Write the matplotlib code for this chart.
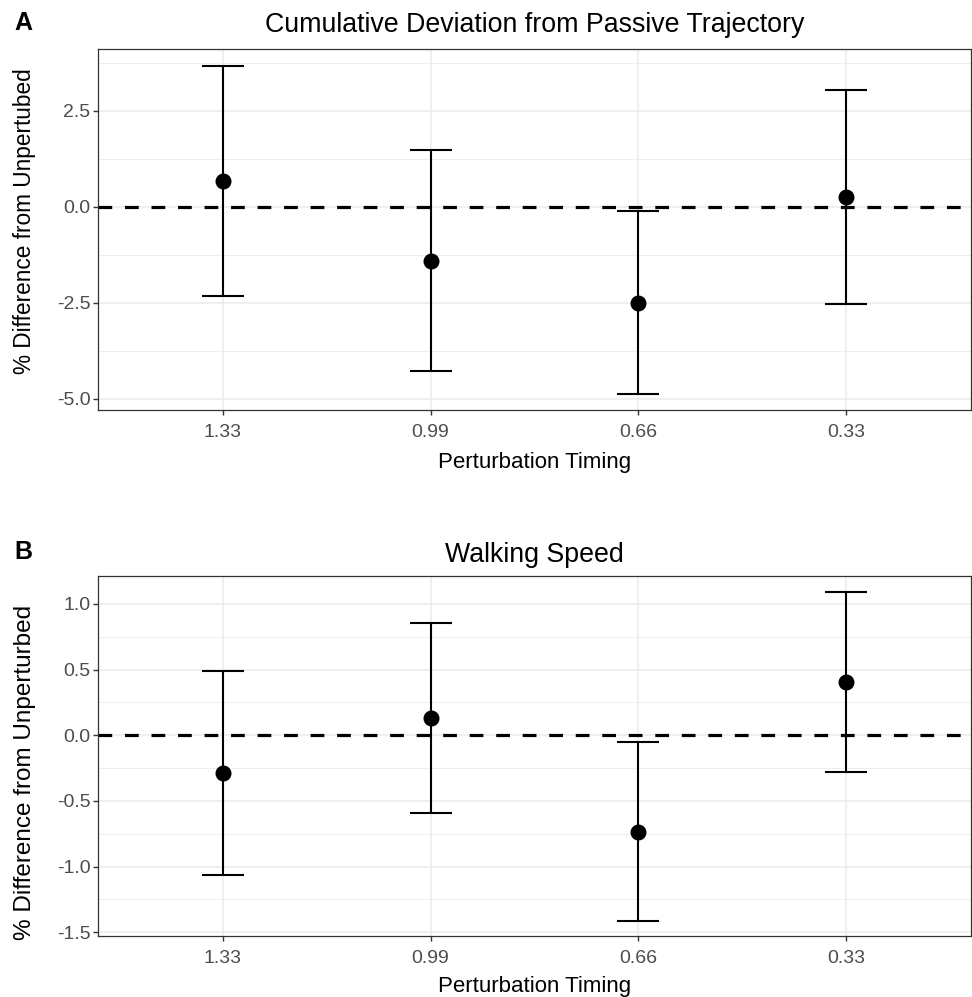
import matplotlib
matplotlib.use("Agg")
import matplotlib.pyplot as plt
import numpy as np

plt.rcParams['font.family'] = ['Liberation Sans', 'DejaVu Sans']

# ---- data ----
categories = ["1.33", "0.99", "0.66", "0.33"]

dev_mean = [0.68, -1.41, -2.50, 0.26]
dev_lower = [-2.31, -4.27, -4.88, -2.53]
dev_upper = [3.68, 1.47, -0.12, 3.04]

speed_mean = [-0.289, 0.134, -0.736, 0.404]
speed_lower = [-1.064, -0.592, -1.412, -0.282]
speed_upper = [0.490, 0.855, -0.053, 1.091]

dev_yticks = [-5.0, -2.5, 0.0, 2.5]
dev_yminor = [-3.75, -1.25, 1.25, 3.75]
speed_yticks = [-1.5, -1.0, -0.5, 0.0, 0.5, 1.0]
speed_yminor = [-1.25, -0.75, -0.25, 0.25, 0.75]

titles = ["Cumulative Deviation from Passive Trajectory", "Walking Speed"]
ylabels = ["% Difference from Unpertubed", "% Difference from Unperturbed"]
xlabel = "Perturbation Timing"
panel_letters = ["A", "B"]

W, H = 972, 997
fig = plt.figure(figsize=(W / 100, H / 100), dpi=100)

def fx(px):
    return px / W

def fy(py):
    return 1 - py / H

panels = [
    dict(left=98, right=971, top=49, bottom=410, ylim=(-5.29, 4.11),
         mean=dev_mean, lo=dev_lower, hi=dev_upper, yt=dev_yticks, ym=dev_yminor,
         title_base=32, letter_base=30, xlab_base=468, ylab_c=221, ylab_fs=16.3,
         title=titles[0], ylab=ylabels[0], letter=panel_letters[0]),
    dict(left=98, right=971, top=576, bottom=936, ylim=(-1.528, 1.213),
         mean=speed_mean, lo=speed_lower, hi=speed_upper, yt=speed_yticks, ym=speed_yminor,
         title_base=562, letter_base=559, xlab_base=992, ylab_c=772, ylab_fs=17.5,
         title=titles[1], ylab=ylabels[1], letter=panel_letters[1]),
]

grid_col = "#EBEBEB"
for p in panels:
    ax = fig.add_axes([fx(p["left"]), fy(p["bottom"]), fx(p["right"] - p["left"]),
                       (p["bottom"] - p["top"]) / H])
    x = np.arange(len(categories))
    ax.set_xlim(-0.6, len(categories) - 0.4)
    ax.set_ylim(*p["ylim"])
    ax.set_xticks(x)
    ax.set_xticklabels(categories)
    ax.set_yticks(p["yt"])
    ax.set_yticklabels([f"{v:.1f}" for v in p["yt"]])
    ax.set_yticks(p["ym"], minor=True)
    ax.tick_params(axis="y", which="minor", length=0)
    ax.tick_params(axis="both", which="major", length=3.6, width=1.0, color="#333333",
                   labelcolor="#4D4D4D", labelsize=14)
    ax.tick_params(axis="y", which="major", pad=1.8)
    ax.tick_params(axis="x", which="major", pad=6.5)
    ax.set_axisbelow(True)
    ax.grid(True, which="major", color=grid_col, lw=1.1)
    ax.grid(True, which="minor", axis="y", color=grid_col, lw=0.6)
    for s in ax.spines.values():
        s.set_color("#333333")
        s.set_linewidth(0.9)

    ax.axhline(0, color="black", lw=2.3, dashes=(4.3, 4.0), zorder=2)
    mean = np.array(p["mean"])
    lo = np.array(p["lo"])
    hi = np.array(p["hi"])
    ax.errorbar(x, mean, yerr=[mean - lo, hi - mean], fmt="none", ecolor="black",
                elinewidth=1.5, capsize=14.8, capthick=1.5, zorder=3)
    ax.plot(x, mean, "o", color="black", ms=10.5, zorder=4)

    fig.text(fx((p["left"] + p["right"]) / 2), fy(p["title_base"]), p["title"],
             ha="center", va="baseline", fontsize=19.3, color="black")
    fig.text(fx(14), fy(p["letter_base"]), p["letter"], ha="left", va="baseline",
             fontsize=18, fontweight="bold", color="black")
    fig.text(fx((p["left"] + p["right"]) / 2), fy(p["xlab_base"]), xlabel,
             ha="center", va="baseline", fontsize=16, color="black")
    fig.text(fx(25), fy(p["ylab_c"]), p["ylab"], rotation=90,
             ha="center", va="center", fontsize=p["ylab_fs"], color="black")

fig.savefig("out.png", dpi=100)
